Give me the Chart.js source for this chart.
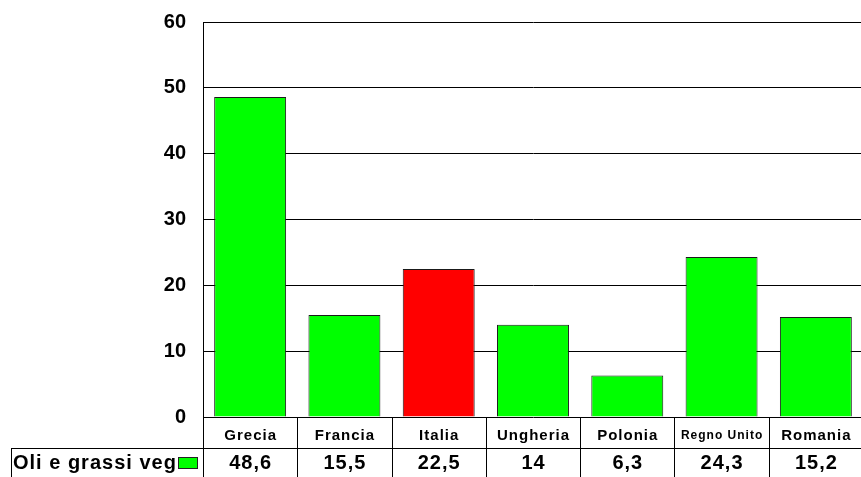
<!DOCTYPE html>
<html>
<head>
<meta charset="utf-8">
<script src="https://cdn.jsdelivr.net/npm/chart.js@4"></script>
<style>
  html, body { margin: 0; padding: 0; background: #fff; overflow: hidden; }
  #wrap { width: 866px; height: 477px; }
</style>
</head>
<body>
<div id="wrap"><canvas id="myChart" width="866" height="477"></canvas></div>
<script>
const CATEGORIES = ['Grecia', 'Francia', 'Italia', 'Ungheria', 'Polonia', 'Regno Unito', 'Romania'];
const VALUES = [48.6, 15.5, 22.5, 14, 6.3, 24.3, 15.2];
const VALUE_LABELS = ['48,6', '15,5', '22,5', '14', '6,3', '24,3', '15,2'];
const SERIES_NAME = 'Oli e grassi veg';
const Y_TICKS = [0, 10, 20, 30, 40, 50, 60];

const GREEN = '#00ff00';
const RED = '#ff0000';
const barColors = CATEGORIES.map(c => (c === 'Italia' ? RED : GREEN));

// draws the Excel-like data table under the plot
const dataTable = {
  id: 'dataTable',
  afterDraw(chart) {
    const { ctx, chartArea, scales } = chart;
    const x = scales.x;
    const left = chartArea.left, right = chartArea.right, bottom = chartArea.bottom;
    const catW = (right - left) / CATEGORIES.length;
    const row1 = Math.round(bottom) + 31;
    const H = chart.height;
    ctx.save();
    ctx.strokeStyle = '#000';
    ctx.lineWidth = 1;
    ctx.beginPath();
    for (let i = 0; i <= CATEGORIES.length; i++) {
      const px = Math.round(left + i * catW) + 0.5;
      ctx.moveTo(px, bottom);
      ctx.lineTo(px, H);
    }
    ctx.moveTo(11, row1 + 0.5);
    ctx.lineTo(right, row1 + 0.5);
    ctx.moveTo(11.5, row1);
    ctx.lineTo(11.5, H);
    ctx.stroke();

    ctx.fillStyle = '#000';
    ctx.textAlign = 'center';
    ctx.textBaseline = 'middle';
    ctx.letterSpacing = '1px';
    CATEGORIES.forEach((c, i) => {
      const cx = x.getPixelForValue(i) + 0.5;
      ctx.font = c.length > 9 ? 'bold 12px Arial, "Liberation Sans"' : 'bold 15px Arial, "Liberation Sans"';
      ctx.fillText(c, cx, bottom + 19);
      ctx.font = 'bold 20px Arial, "Liberation Sans"';
      ctx.fillText(VALUE_LABELS[i], cx, row1 + 15);
    });
    ctx.textAlign = 'left';
    ctx.font = 'bold 20px Arial, "Liberation Sans"';
    ctx.fillText(SERIES_NAME, 13, row1 + 15);
    ctx.letterSpacing = '0px';
    ctx.fillStyle = GREEN;
    ctx.fillRect(178, 457, 19, 11);
    ctx.strokeStyle = '#222';
    ctx.strokeRect(178.5, 457.5, 19, 11);
    ctx.restore();
  }
};

const config = {
  type: 'bar',
  data: {
    labels: CATEGORIES,
    datasets: [
      {
        label: SERIES_NAME,
        data: VALUES,
        backgroundColor: barColors,
        borderColor: '#1a1a1a',
        borderWidth: 1,
        barPercentage: 0.763,
        categoryPercentage: 1,
      },
    ],
  },
  options: {
    responsive: false,
    animation: false,
    layout: { padding: { top: 22, bottom: 60, left: 0, right: 3 } },
    plugins: {
      legend: { display: false },
      tooltip: { enabled: false },
    },
    scales: {
      x: { display: false },
      y: {
        min: 0,
        max: 60,
        afterFit: (s) => { s.width = 203; },
        afterBuildTicks: (s) => { s.ticks = Y_TICKS.map(v => ({ value: v })); },
        border: { color: '#000', width: 1 },
        grid: { color: '#000', lineWidth: 1, drawTicks: false },
        ticks: {
          color: '#000',
          padding: 17,
          font: { family: 'Arial, "Liberation Sans"', size: 20, weight: 'bold', lineHeight: 0.5 },
        },
      },
    },
  },
  plugins: [dataTable],
};

new Chart(document.getElementById('myChart'), config);
</script>
</body>
</html>
